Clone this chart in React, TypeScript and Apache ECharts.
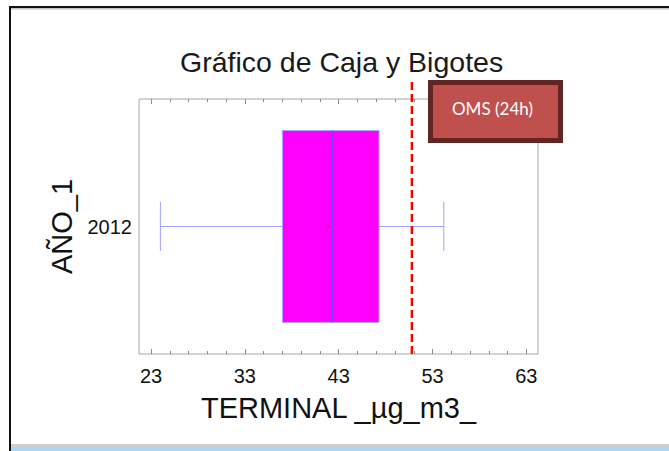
import React, { useEffect, useRef } from 'react';
import * as echarts from 'echarts';

const categories = ['2012'];
const whiskerLow = [24.0];
const quartile1 = [37.0];
const medians = [42.35];
const quartile3 = [47.3];
const whiskerHigh = [54.2];
const means = [41.9];
const omsLimit = [50.8];
const majorTicks = [23, 33, 43, 53, 63];
const minorTicks = [25, 27, 29, 31, 35, 37, 39, 41, 45, 47, 49, 51, 55, 57, 59, 61];

export default function App() {
  const ref = useRef<HTMLDivElement>(null);
  useEffect(() => {
    const chart = echarts.init(ref.current!, null, { renderer: 'svg' });
    const font = '"Liberation Sans", Arial, sans-serif';
    const boxData = categories.map((c, i) => [i, whiskerLow[i], quartile1[i], medians[i], quartile3[i], whiskerHigh[i], means[i]]);
    const baseX: any = {
      type: 'value', min: 21.72, max: 64.24, gridIndex: 0,
      splitLine: { show: false }, axisLine: { show: false },
    };
    const tickColor = '#8c8c8c';
    const option: any = {
      animation: false,
      backgroundColor: '#ffffff',
      title: {
        text: 'Gráfico de Caja y Bigotes',
        left: 175, top: 42,
        textStyle: { fontFamily: font, fontSize: 28.5, fontWeight: 'normal', color: '#1a1a1a' },
      },
      grid: { left: 139, top: 99, width: 399, height: 255, show: true, borderColor: '#a6a6a6', borderWidth: 1, backgroundColor: 'transparent' },
      xAxis: [
        {
          ...baseX, position: 'bottom',
          name: 'TERMINAL _µg_m3_', nameLocation: 'middle', nameGap: 39,
          nameTextStyle: { fontFamily: font, fontSize: 29, color: '#111' },
          axisTick: { show: true, inside: true, length: 5, customValues: majorTicks, lineStyle: { color: tickColor } },
          axisLabel: { show: true, customValues: majorTicks, fontFamily: font, fontSize: 20, color: '#111', margin: 12 },
        },
        {
          ...baseX, position: 'bottom',
          axisTick: { show: true, inside: true, length: 3, customValues: minorTicks, lineStyle: { color: tickColor } },
          axisLabel: { show: false },
        },
        {
          ...baseX, position: 'top',
          axisTick: { show: true, inside: true, length: 5, customValues: majorTicks, lineStyle: { color: tickColor } },
          axisLabel: { show: false },
        },
        {
          ...baseX, position: 'top',
          axisTick: { show: true, inside: true, length: 3, customValues: minorTicks, lineStyle: { color: tickColor } },
          axisLabel: { show: false },
        },
      ],
      yAxis: {
        type: 'category', data: categories,
        axisLine: { show: false }, axisTick: { show: false }, splitLine: { show: false },
        axisLabel: { fontFamily: font, fontSize: 20, color: '#111', margin: 7 },
        name: 'AÑO_1', nameLocation: 'middle', nameRotate: 90, nameGap: 53,
        nameTextStyle: { fontFamily: font, fontSize: 29, color: '#111' },
      },
      series: [
        {
          type: 'custom',
          xAxisIndex: 0, yAxisIndex: 0,
          data: boxData,
          encode: { x: [1, 2, 3, 4, 5, 6], y: 0 },
          renderItem: (params: any, api: any) => {
            const c = api.value(0);
            const pMin = api.coord([api.value(1), c]);
            const pQ1 = api.coord([api.value(2), c]);
            const pMed = api.coord([api.value(3), c]);
            const pQ3 = api.coord([api.value(4), c]);
            const pMax = api.coord([api.value(5), c]);
            const pMean = api.coord([api.value(6), c]);
            const band = api.size([0, 1])[1];
            const half = band * 0.3765;
            const cap = band * 0.096;
            const wc = '#a0a0ff';
            return {
              type: 'group',
              children: [
                { type: 'line', shape: { x1: pMin[0], y1: pMin[1], x2: pQ1[0], y2: pQ1[1] }, style: { stroke: wc, lineWidth: 1 } },
                { type: 'line', shape: { x1: pQ3[0], y1: pQ3[1], x2: pMax[0], y2: pMax[1] }, style: { stroke: wc, lineWidth: 1 } },
                { type: 'line', shape: { x1: pMin[0], y1: pMin[1] - cap, x2: pMin[0], y2: pMin[1] + cap }, style: { stroke: wc, lineWidth: 1 } },
                { type: 'line', shape: { x1: pMax[0], y1: pMax[1] - cap, x2: pMax[0], y2: pMax[1] + cap }, style: { stroke: wc, lineWidth: 1 } },
                { type: 'rect', shape: { x: pQ1[0], y: pQ1[1] - half, width: pQ3[0] - pQ1[0], height: half * 2 }, style: { fill: '#ff00ff', stroke: '#a8a8ff', lineWidth: 1 } },
                { type: 'line', shape: { x1: pMed[0], y1: pMed[1] - half, x2: pMed[0], y2: pMed[1] + half }, style: { stroke: '#7b3cff', lineWidth: 1 } },
                { type: 'circle', shape: { cx: pMean[0], cy: pMean[1], r: 1.5 }, style: { fill: '#ff1030' } },
              ],
            };
          },
        },
        {
          type: 'custom',
          xAxisIndex: 0, yAxisIndex: 0,
          data: omsLimit.map((v) => [v, 0]),
          encode: { x: 0, y: 1 },
          z: 5,
          renderItem: (params: any, api: any) => {
            const p = api.coord([api.value(0), 0]);
            const cs = params.coordSys;
            return {
              type: 'line',
              shape: { x1: p[0], y1: cs.y - 17, x2: p[0], y2: cs.y + cs.height },
              style: { stroke: '#ff0000', lineWidth: 2.5, lineDash: [8, 4] },
            };
          },
        },
      ],
      graphic: [
        { type: 'rect', z: 50, shape: { x: 9, y: 6, width: 660, height: 2 }, style: { fill: '#111' } },
        { type: 'rect', z: 50, shape: { x: 11, y: 8, width: 658, height: 1.5 }, style: { fill: '#c4c4c4' } },
        { type: 'rect', z: 50, shape: { x: 9, y: 6, width: 2, height: 445 }, style: { fill: '#111' } },
        { type: 'rect', z: 50, shape: { x: 11, y: 444, width: 658, height: 3 }, style: { fill: '#cfcfcf' } },
        { type: 'rect', z: 50, shape: { x: 11, y: 447, width: 658, height: 4 }, style: { fill: '#acd6f5' } },
        { type: 'rect', z: 60, shape: { x: 430.5, y: 82.5, width: 130, height: 58 }, style: { fill: '#c0504d', stroke: '#632523', lineWidth: 5 } },
        { type: 'text', z: 61, x: 492.5, y: 108, style: { text: 'OMS (24h)', fill: '#ffffff', font: '17px Lato, "Open Sans", sans-serif', textAlign: 'center', textVerticalAlign: 'middle' } },
      ],
    };
    chart.setOption(option);
    return () => chart.dispose();
  }, []);
  return <div ref={ref} style={{ position: 'absolute', left: 0, top: 0, width: 669, height: 451 }} />;
}
